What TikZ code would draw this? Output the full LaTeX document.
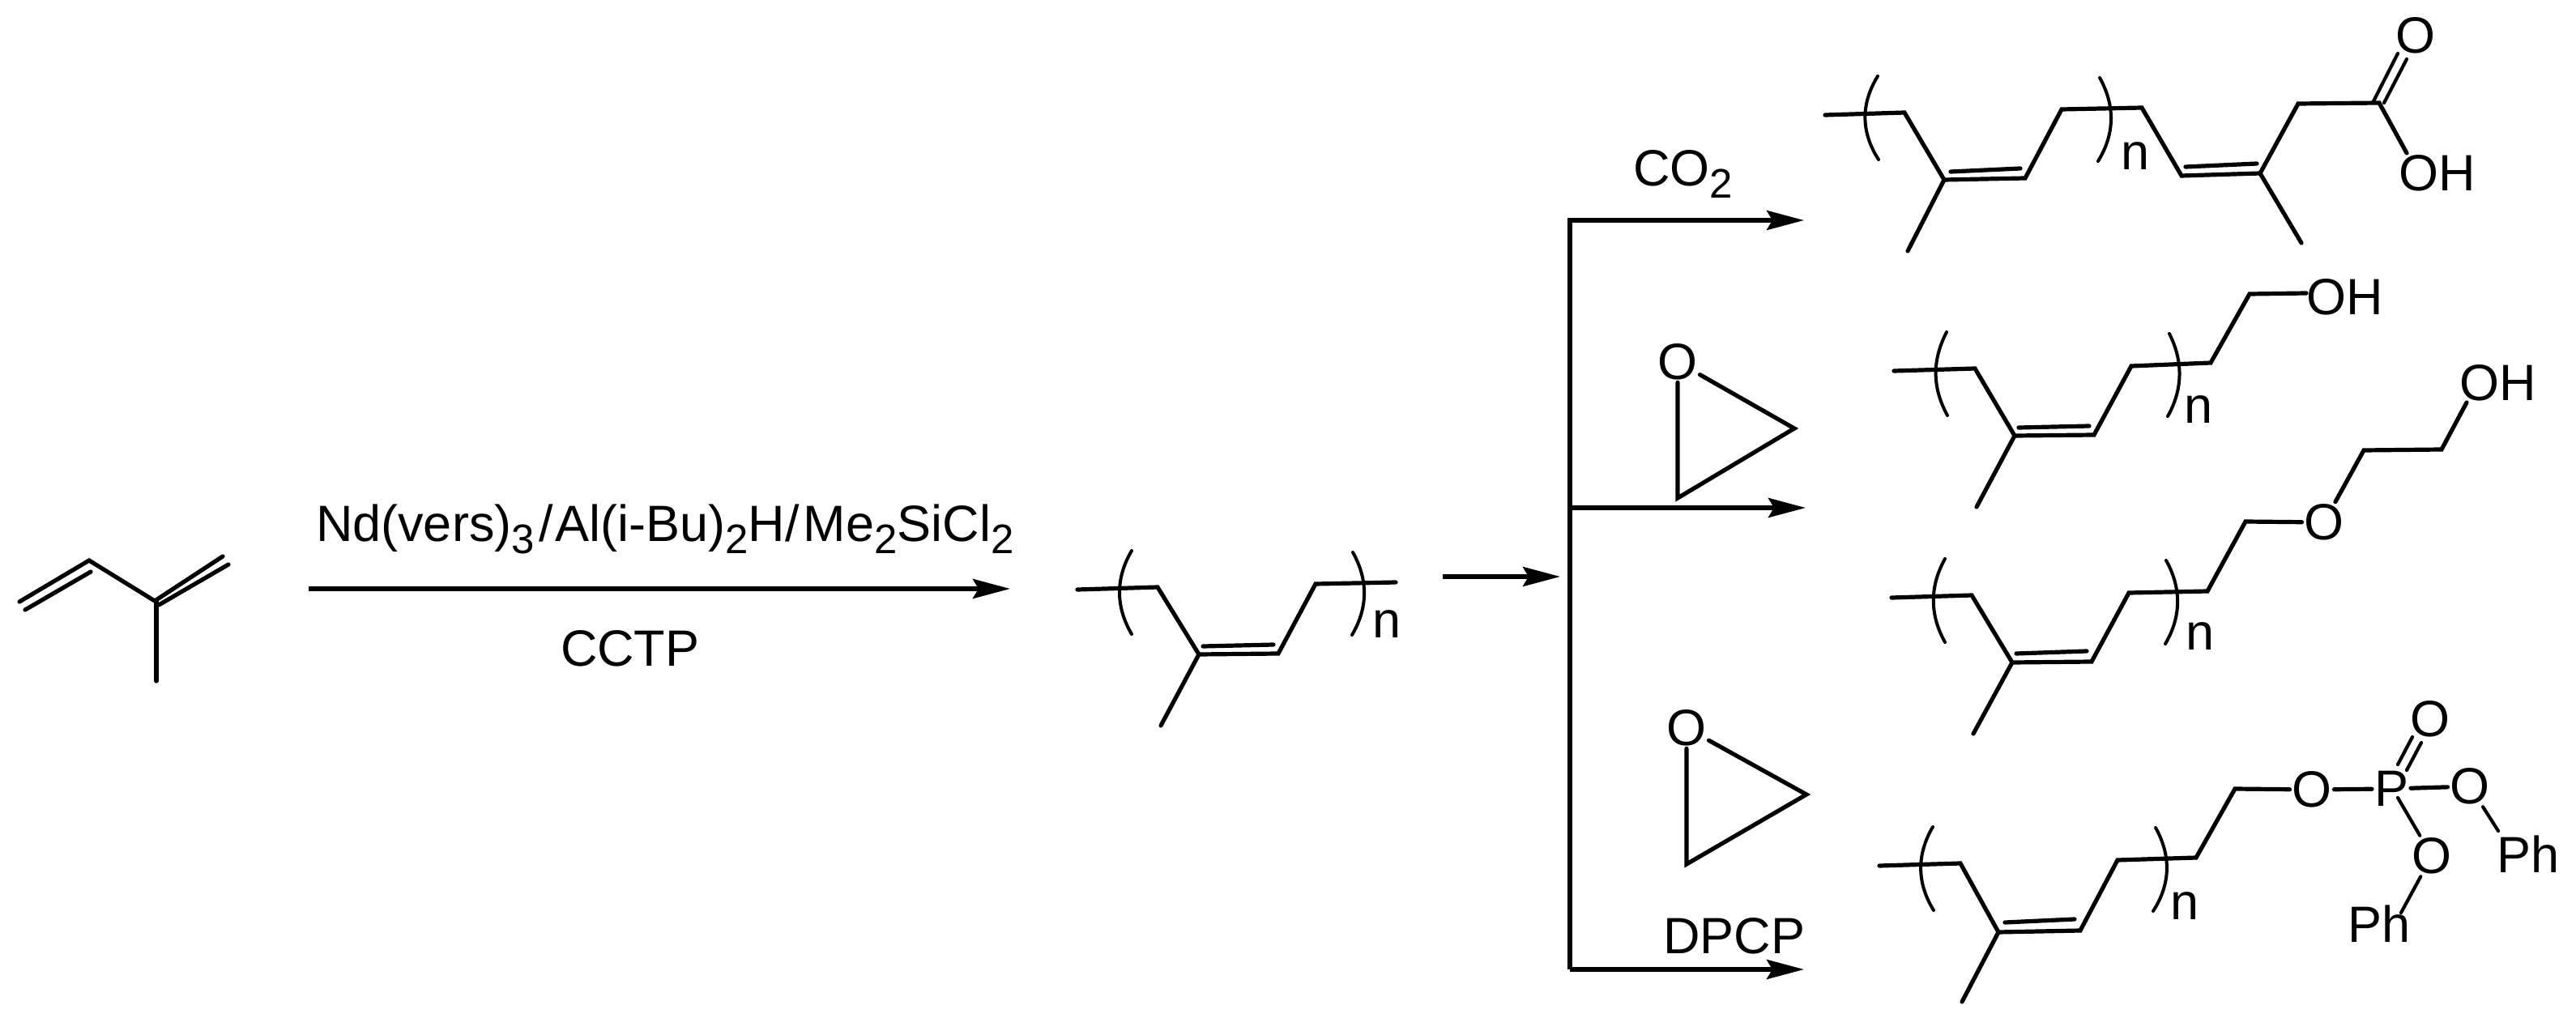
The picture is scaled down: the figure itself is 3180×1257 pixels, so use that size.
\documentclass[tikz,border=0pt]{standalone}
\usepackage{fontspec}
\setmainfont[Kerning=Off]{Liberation Sans}
\usetikzlibrary{arrows.meta}
\newcommand{\sbs}[1]{\raisebox{-7.5pt}{\fontsize{25.5}{25.5}\selectfont #1}}
\tikzset{
  bond/.style={line width=2.6pt,line cap=round,line join=miter,black},
  thinbond/.style={line width=2.1pt,line cap=round,black},
  brk/.style={line width=2pt,line cap=round,black},
  rxn/.style={line width=2.6pt,black,-{Stealth[length=23pt,width=12pt,inset=3.5pt]}},
  lab/.style={inner sep=0pt,outer sep=0pt,anchor=base west,font=\fontsize{31.5}{31.5}\selectfont,black},
  atom/.style={inner sep=1.5pt,outer sep=0pt,anchor=center,font=\fontsize{31.5}{31.5}\selectfont,black}
}
\begin{document}
\begin{tikzpicture}[x=0.5pt,y=-0.5pt]
\useasboundingbox (0,0) rectangle (3180,1257);
\fill[white] (0,0) rectangle (3180,1257);

% isoprene
\coordinate (ia) at (24,743);
\coordinate (ib) at (110,692);
\coordinate (ic) at (191,742);
\coordinate (id) at (275,687);
\coordinate (ia2) at (31,753);
\coordinate (ib2) at (112,706);
\coordinate (ic2) at (196,747);
\coordinate (id2) at (282,697);
\coordinate (im0) at (193,743);
\coordinate (im) at (193,841);
\draw[bond] (ia) -- (ib) -- (ic) -- (id);
\draw[bond] (ia2) -- (ib2);
\draw[bond] (ic2) -- (id2);
\draw[bond] (im0) -- (im);

% main arrow
\coordinate (m0) at (381,727);
\coordinate (m1) at (1247,727);
\draw[rxn] (m0) -- (m1);
\node[lab] (reag) at (390,668) {Nd(vers)\sbs{3}\kern3pt/\kern1pt Al(i-Bu)\sbs{2}H/\kern2.5pt Me\sbs{2}SiCl\sbs{2}};
\node[lab] (cctp) at (692,822) {CCTP};

% polymer
\coordinate (pa) at (1330,728);
\coordinate (pb) at (1429,725);
\coordinate (pc) at (1480,808);
\coordinate (pd) at (1578,807);
\coordinate (pe) at (1624,721);
\coordinate (pf) at (1723,719);
\coordinate (pg) at (1485,798);
\coordinate (ph) at (1572,796);
\coordinate (pm) at (1433,896);
\draw[bond] (pa) -- (pb) -- (pc) -- (pd) -- (pe) -- (pf);
\draw[bond] (pg) -- (ph);
\draw[bond] (pc) -- (pm);
\draw[brk] (1397,680) .. controls (1377,714) and (1377,749) .. (1397,783);
\draw[brk] (1670,682) .. controls (1689,716) and (1689,750) .. (1669,784);
\node[lab] (pn) at (1694,787) {n};

% branch
\coordinate (b0) at (1781,712);
\coordinate (b1) at (1926,712);
\draw[rxn] (b0) -- (b1);
\coordinate (v0) at (1938,272);
\coordinate (v1) at (1938,1197);
\coordinate (vm) at (1938,627);
\coordinate (t1) at (2227,272);
\coordinate (t2) at (2229,627);
\coordinate (t3) at (2227,1197);
\draw[rxn] (v1) -- (v0) -- (t1);
\draw[rxn] (vm) -- (t2);
\draw[rxn] (v1) -- (t3);
\node[lab] (co2) at (2016,230) {CO\sbs{2}};
\node[lab] (dpcp) at (2053,1177) {DPCP};

% oxirane 1
\node[atom] (xo1) at (2071,447) {O};
\coordinate (x1a) at (2071,615);
\coordinate (x1b) at (2215,529);
\draw[bond] (xo1) -- (x1a) -- (x1b) -- (xo1);

% oxirane 2
\node[atom] (xo2) at (2082,899) {O};
\coordinate (x2a) at (2082,1067);
\coordinate (x2b) at (2230,981);
\draw[bond] (xo2) -- (x2a) -- (x2b) -- (xo2);

% product 1
\coordinate (a1) at (2253,142);
\coordinate (a2) at (2351,139);
\coordinate (a3) at (2400,222);
\coordinate (a4) at (2500,220);
\coordinate (a5) at (2545,135);
\coordinate (a6) at (2644,133);
\coordinate (a7) at (2693,217);
\coordinate (a8) at (2790,214);
\coordinate (a9) at (2837,128);
\coordinate (a10) at (2937,127);
\coordinate (a11) at (2971,189);
\coordinate (ai1) at (2408,212);
\coordinate (ai2) at (2494,208);
\coordinate (ai3) at (2698,206);
\coordinate (ai4) at (2786,202);
\coordinate (am1) at (2355,310);
\coordinate (am2) at (2841,300);
\coordinate (ad1) at (2930,125);
\coordinate (ad2) at (2960,66);
\coordinate (ad3) at (2943,127);
\coordinate (ad4) at (2971,73);
\draw[bond] (a1) -- (a2) -- (a3) -- (a4) -- (a5) -- (a6) -- (a7) -- (a8) -- (a9) -- (a10) -- (a11);
\draw[bond] (ai1) -- (ai2);
\draw[bond] (ai3) -- (ai4);
\draw[bond] (a3) -- (am1);
\draw[bond] (a8) -- (am2);
\draw[thinbond] (ad1) -- (ad2);
\draw[thinbond] (ad3) -- (ad4);
\draw[brk] (2318,94) .. controls (2297,128) and (2297,163) .. (2319,197);
\draw[brk] (2592,96) .. controls (2611,130) and (2611,165) .. (2590,199);
\node[lab] (an) at (2618,210) {n};
\node[atom] (ao) at (2982,44) {O};
\node[lab] (aoh) at (2961,236) {OH};

% product 2
\coordinate (b1a) at (2338,458);
\coordinate (b2a) at (2438,455);
\coordinate (b3a) at (2487,538);
\coordinate (b4a) at (2585,537);
\coordinate (b5a) at (2631,452);
\coordinate (b6a) at (2729,448);
\coordinate (b7a) at (2777,363);
\coordinate (b8a) at (2847,362);
\coordinate (bi1) at (2492,528);
\coordinate (bi2) at (2579,526);
\coordinate (bm) at (2440,626);
\draw[bond] (b1a) -- (b2a) -- (b3a) -- (b4a) -- (b5a) -- (b6a) -- (b7a) -- (b8a);
\draw[bond] (bi1) -- (bi2);
\draw[bond] (b3a) -- (bm);
\draw[brk] (2403,410) .. controls (2385,445) and (2385,478) .. (2404,513);
\draw[brk] (2678,412) .. controls (2695,446) and (2695,480) .. (2676,514);
\node[lab] (bn) at (2696,522) {n};
\node[lab] (boh) at (2847,388) {OH};

% product 3
\coordinate (c1) at (2335,738);
\coordinate (c2) at (2434,735);
\coordinate (c3) at (2484,818);
\coordinate (c4) at (2582,817);
\coordinate (c5) at (2628,732);
\coordinate (c6) at (2725,730);
\coordinate (c7) at (2772,644);
\coordinate (c9) at (2918,556);
\coordinate (c10) at (3014,555);
\coordinate (c11) at (3045,497);
\coordinate (ci1) at (2489,807);
\coordinate (ci2) at (2576,804);
\coordinate (cm) at (2436,906);
\node[atom] (co) at (2869,645) {O};
\draw[bond] (c1) -- (c2) -- (c3) -- (c4) -- (c5) -- (c6) -- (c7) -- (co) -- (c9) -- (c10) -- (c11);
\draw[bond] (ci1) -- (ci2);
\draw[bond] (c3) -- (cm);
\draw[brk] (2401,690) .. controls (2382,724) and (2382,759) .. (2401,793);
\draw[brk] (2674,692) .. controls (2693,726) and (2693,761) .. (2673,795);
\node[lab] (cn) at (2698,802) {n};
\node[lab] (coh) at (3036,494) {OH};

% product 4
\coordinate (d1) at (2320,1069);
\coordinate (d2) at (2420,1066);
\coordinate (d3) at (2467,1151);
\coordinate (d4) at (2568,1149);
\coordinate (d5) at (2614,1062);
\coordinate (d6) at (2711,1059);
\coordinate (d7) at (2759,974);
\coordinate (di1) at (2475,1139);
\coordinate (di2) at (2561,1135);
\coordinate (dm) at (2422,1237);
\node[atom] (do) at (2854,975) {O};
\node[atom] (dp) at (2952,974) {P};
\node[atom] (dor) at (3049,971) {O};
\node[atom] (dot) at (3000,888) {O};
\node[atom] (dol) at (3002,1057) {O};
\node[lab] (phr) at (3082,1077) {Ph};
\node[lab] (phl) at (2898,1163) {Ph};
\coordinate (dd1) at (2960,944);
\coordinate (dd2) at (2978,910);
\coordinate (dd3) at (2971,951);
\coordinate (dd4) at (2989,917);
\coordinate (dl1) at (2960,985);
\coordinate (dl2) at (2964,1127);
\coordinate (dr2) at (3084,1026);
\draw[bond] (d1) -- (d2) -- (d3) -- (d4) -- (d5) -- (d6) -- (d7) -- (do);
\draw[bond] (do) -- (dp);
\draw[bond] (dp) -- (dor);
\draw[bond] (di1) -- (di2);
\draw[bond] (d3) -- (dm);
\draw[thinbond] (dd1) -- (dd2);
\draw[thinbond] (dd3) -- (dd4);
\draw[thinbond] (dl1) -- (dol);
\draw[thinbond] (dol) -- (dl2);
\draw[thinbond] (dor) -- (dr2);
\draw[brk] (2386,1021) .. controls (2366,1055) and (2366,1090) .. (2387,1124);
\draw[brk] (2661,1022) .. controls (2680,1056) and (2680,1091) .. (2658,1125);
\node[lab] (dn) at (2679,1135) {n};
\end{tikzpicture}
\end{document}
